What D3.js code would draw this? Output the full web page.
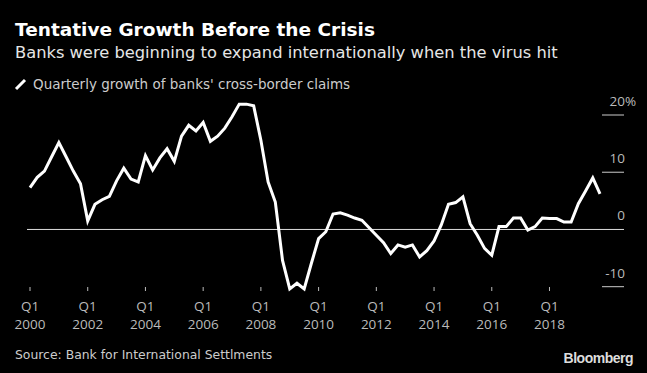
<!DOCTYPE html>
<html>
<head>
<meta charset="UTF-8">
<title>Tentative Growth Before the Crisis</title>
<script src="https://cdn.jsdelivr.net/npm/d3@7"></script>
<style>
  * { margin: 0; padding: 0; }
  body { background: #000; }
  svg { display: block; }
</style>
</head>
<body>
<div id="chart"></div>
<script>
// quarterly growth, Q1 2000 .. Q4 2019 (%)
var startYear = 2000;
var growth = [
  7.3, 9.1, 10.2, 12.7, 15.2, 12.7, 10.2, 8.0,
  1.5, 4.4, 5.2, 5.8, 8.5, 10.7, 8.8, 8.3,
  12.9, 10.4, 12.5, 14.1, 11.9, 16.3, 18.2, 17.2,
  18.7, 15.4, 16.3, 17.7, 19.7, 21.9, 21.9, 21.6,
  15.6, 8.3, 4.8, -5.4, -10.4, -9.4, -10.4, -5.9,
  -1.6, -0.4, 2.7, 2.9, 2.5, 2.0, 1.6, 0.3,
  -1.0, -2.3, -4.2, -2.7, -3.1, -2.7, -4.8, -3.7,
  -2.0, 0.8, 4.4, 4.7, 5.7, 1.0, -1.0, -3.3,
  -4.5, 0.5, 0.5, 2.0, 2.0, -0.1, 0.5, 2.0,
  1.9, 1.9, 1.3, 1.3, 4.5, 6.7, 9.0, 6.2
];
var yTicks = [-10, 0, 10, 20];
var xTickYears = [2000, 2002, 2004, 2006, 2008, 2010, 2012, 2014, 2016, 2018];

var w = 647, h = 373;

var svg = d3.select("#chart").append("svg")
  .attr("width", w)
  .attr("height", h);

svg.append("rect").attr("width", w).attr("height", h).attr("fill", "#000");

var x = d3.scaleLinear()
  .domain([0, 79])
  .range([30, 600]);

var y = d3.scaleLinear()
  .domain([-10, 20])
  .range([286.7, 115]);

// titles
svg.append("text")
  .attr("x", 15).attr("y", 36)
  .attr("font-family", "DejaVu Sans")
  .attr("font-weight", "bold")
  .attr("font-size", "18.5px")
  .attr("fill", "#fff")
  .text("Tentative Growth Before the Crisis");

svg.append("text")
  .attr("x", 15).attr("y", 58)
  .attr("font-family", "DejaVu Sans")
  .attr("font-size", "16.3px")
  .attr("fill", "#e6e6e6")
  .text("Banks were beginning to expand internationally when the virus hit");

// legend
svg.append("line")
  .attr("x1", 16).attr("y1", 89)
  .attr("x2", 25).attr("y2", 80)
  .attr("stroke", "#fff")
  .attr("stroke-width", 3);

svg.append("text")
  .attr("x", 33).attr("y", 89)
  .attr("font-family", "DejaVu Sans")
  .attr("font-size", "13.5px")
  .attr("fill", "#ccc")
  .text("Quarterly growth of banks' cross-border claims");

// y grid stubs + labels
yTicks.forEach(function(t) {
  if (t == 0) {
    svg.append("line")
      .attr("x1", 27).attr("x2", 624)
      .attr("y1", y(t)).attr("y2", y(t))
      .attr("stroke", "#ddd").attr("stroke-width", 1);
  } else {
    svg.append("line")
      .attr("x1", 602).attr("x2", 624)
      .attr("y1", y(t)).attr("y2", y(t))
      .attr("stroke", "#ccc").attr("stroke-width", 1);
  }
  svg.append("text")
    .attr("x", 625).attr("y", y(t) - 9)
    .attr("text-anchor", "end")
    .attr("font-family", "Open Sans")
    .attr("font-size", "13.5px")
    .attr("fill", "#bbb")
    .text(t == 0 ? "0" : (t < 0 ? "-" + Math.abs(t) : t));
});
svg.append("text")
  .attr("x", 625).attr("y", y(20) - 9)
  .attr("font-family", "Open Sans")
  .attr("font-size", "13.5px")
  .attr("fill", "#bbb")
  .text("%");

// x ticks
xTickYears.forEach(function(yr) {
  var xi = x((yr - startYear) * 4);
  svg.append("line")
    .attr("x1", xi).attr("x2", xi)
    .attr("y1", 287).attr("y2", 291)
    .attr("stroke", "#bbb");
  svg.append("text")
    .attr("x", xi).attr("y", 311)
    .attr("text-anchor", "middle")
    .attr("font-family", "Open Sans")
    .attr("font-size", "13.5px")
    .attr("fill", "#bbb")
    .text("Q1");
  svg.append("text")
    .attr("x", xi).attr("y", 329)
    .attr("text-anchor", "middle")
    .attr("font-family", "Open Sans")
    .attr("font-size", "13.5px")
    .attr("fill", "#bbb")
    .text(yr);
});

// line
var line = d3.line()
  .x(function(d, i) { return x(i); })
  .y(function(d) { return y(d); });

svg.append("path")
  .datum(growth)
  .attr("d", line)
  .attr("fill", "none")
  .attr("stroke", "#fff")
  .attr("stroke-width", 3)
  .attr("stroke-linejoin", "miter");

// footer
svg.append("text")
  .attr("x", 15).attr("y", 359)
  .attr("font-family", "DejaVu Sans")
  .attr("font-size", "12.4px")
  .attr("fill", "#ccc")
  .text("Source: Bank for International Settlments");

svg.append("text")
  .attr("x", 633).attr("y", 363)
  .attr("text-anchor", "end")
  .attr("font-family", "Liberation Sans")
  .attr("font-weight", "bold")
  .attr("font-size", "14px")
  .attr("letter-spacing", "-0.5px")
  .attr("fill", "#ddd")
  .text("Bloomberg");
</script>
</body>
</html>
